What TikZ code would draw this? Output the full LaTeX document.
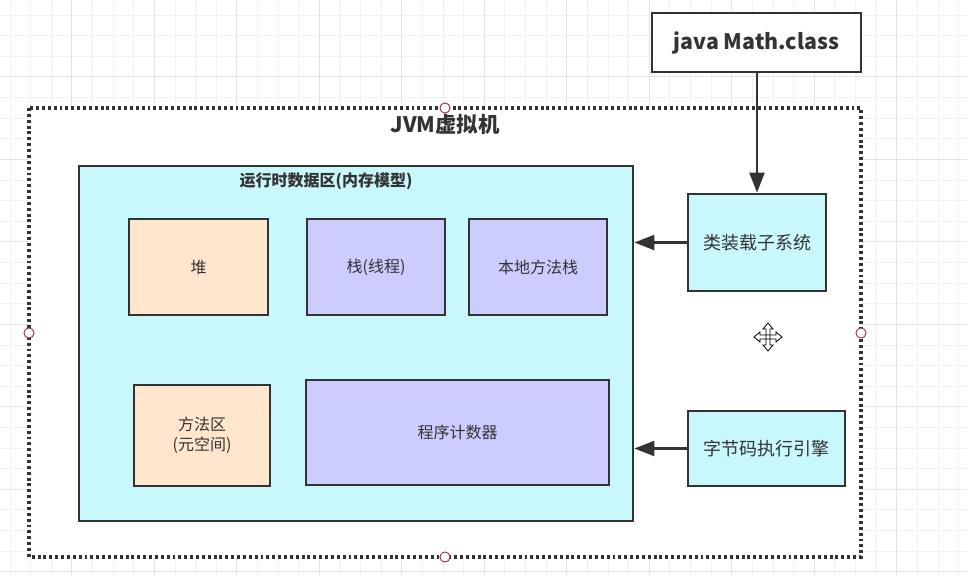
\documentclass[tikz,border=0pt]{standalone}
\usepackage{fontspec}
\setmainfont{Noto Sans CJK SC}
\usetikzlibrary{arrows.meta}
\definecolor{gridminor}{HTML}{F1F1F4}
\definecolor{gridmajor}{HTML}{E3E3EA}
\definecolor{ink}{HTML}{333333}
\definecolor{cyanfill}{HTML}{C8F8FC}
\definecolor{peachfill}{HTML}{FFE6CC}
\definecolor{lilacfill}{HTML}{CCCCFF}
\definecolor{handle}{HTML}{8B1A2B}

\begin{document}
\begin{tikzpicture}[x=0.75pt,y=-0.75pt,
    box/.style={draw=ink,line width=1.9pt,text=ink,align=center,
                font=\fontsize{12}{15}\selectfont,inner sep=0pt},
    flow/.style={draw=ink,line width=2.2pt,-{Triangle[length=15pt,width=11pt]}},
    grip/.style={draw=handle,fill=white,line width=0.6pt}]
\useasboundingbox (0,0) rectangle (967,575);
\fill[white] (0,0) rectangle (967,575);
% background grid
\foreach \i in {0,...,46}
    \draw[gridminor,line width=0.6pt] (10+\i*20.62,0) -- +(0,575);
\foreach \i in {0,...,27}
    \draw[gridminor,line width=0.6pt] (0,15+\i*20.62) -- +(967,0);
\foreach \i in {0,...,11}
    \draw[gridmajor,line width=0.8pt] (71.7+\i*82.5,0) -- +(0,575);
\foreach \i in {-1,...,6}
    \draw[gridmajor,line width=0.8pt] (0,76.7+\i*82.5) -- +(967,0);

% JVM frame
\draw[fill=white,draw=ink,line width=2.3pt,dash pattern=on 2.2pt off 2.2pt]
    (29,108) rectangle (861,557);
\node[text=ink,font=\fontsize{16}{18}\selectfont\bfseries] (jvm) at (445,124) {JVM虚拟机};

% runtime data area
\node[box,fill=cyanfill,minimum width=415.5pt,minimum height=266.25pt] (runtime) at (356,343.5) {};
\node[text=ink,font=\fontsize{12}{14}\selectfont\bfseries] (rtitle) at (326,181) {运行时数据区(内存模型)};

\node[box,fill=peachfill,minimum width=104.25pt,minimum height=72pt]  (heap)   at (198.5,267) {堆};
\node[box,fill=lilacfill,minimum width=103.5pt,minimum height=72pt]   (stack)  at (376,267)   {栈(线程)};
\node[box,fill=lilacfill,minimum width=103.5pt,minimum height=72pt]   (native) at (538,267)   {本地方法栈};
\node[box,fill=peachfill,minimum width=102pt,minimum height=75.75pt]  (method) at (202,435.5) {方法区\\(元空间)};
\node[box,fill=lilacfill,minimum width=227.25pt,minimum height=78.75pt] (pc)   at (457.5,432.5) {程序计数器};

% outside parts
\node[box,fill=white,minimum width=156.75pt,minimum height=44.25pt,
      font=\fontsize{16}{18}\selectfont\bfseries] (clsfile) at (756.5,42.5) {java Math.class};
\node[box,fill=cyanfill,minimum width=103.5pt,minimum height=72.75pt,
      font=\fontsize{13.5}{15}\selectfont] (loader) at (757,242.5) {类装载子系统};
\node[box,fill=cyanfill,minimum width=117.75pt,minimum height=56.25pt,
      font=\fontsize{13.5}{15}\selectfont] (engine) at (766.5,448.5) {字节码执行引擎};

\draw[flow] (clsfile.south -| loader.north) -- (loader.north);
\draw[flow] (loader.west) -- (loader.west -| runtime.east);
\draw[flow] (engine.west) -- (engine.west -| runtime.east);

% selection handles
\foreach \hx/\hy in {445/108,29/333,861/333,445/557}
    \draw[grip] (\hx,\hy) circle (3.8pt);

% move cursor
\foreach \ang in {0,90,180,270}
    \draw[black,line width=0.6pt,fill=white,rotate around={\ang:(768,337)}]
        (766,335) -- (766,329) -- (763,329) -- (768,323) -- (773,329) -- (770,329) -- (770,335) -- cycle;
\end{tikzpicture}
\end{document}
